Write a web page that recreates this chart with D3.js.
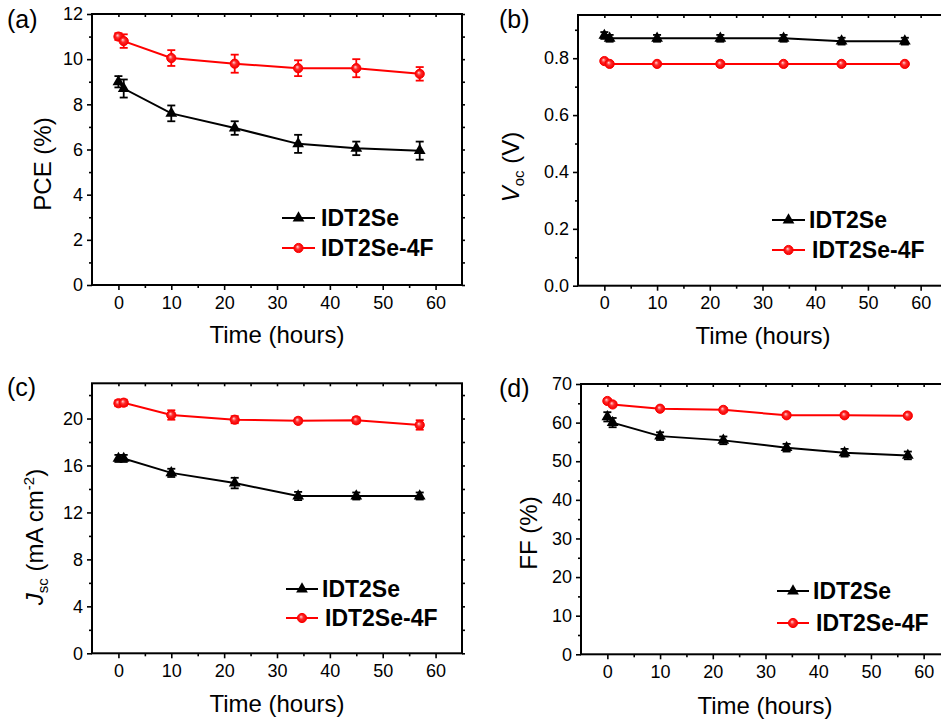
<!DOCTYPE html>
<html>
<head>
<meta charset="utf-8">
<script src="https://cdn.jsdelivr.net/npm/d3@7"></script>
<style>
  body { margin: 0; background: #fff; }
  svg { display: block; font-family: "Liberation Sans", Arial, sans-serif; }
</style>
</head>
<body>
<div id="chart"></div>
<script>
// thời gian đo (giờ)
const hours = [0, 1, 10, 22, 34, 45, 57];
const seriesNames = ["IDT2Se", "IDT2Se-4F"];

// (a) PCE
const pceIDT2Se = [9.0, 8.7, 7.6, 6.95, 6.25, 6.05, 5.95];
const pceIDT2SeErr = [0.25, 0.4, 0.35, 0.3, 0.4, 0.3, 0.4];
const pce4F = [11.0, 10.8, 10.05, 9.8, 9.6, 9.6, 9.35];
const pce4FErr = [0.15, 0.3, 0.35, 0.4, 0.35, 0.4, 0.3];

// (b) Voc
const vocIDT2Se = [0.88, 0.87, 0.87, 0.87, 0.87, 0.86, 0.86];
const vocIDT2SeErr = [0.012, 0.012, 0.012, 0.012, 0.012, 0.012, 0.012];
const voc4F = [0.79, 0.78, 0.78, 0.78, 0.78, 0.78, 0.78];
const voc4FErr = [0.005, 0.005, 0.005, 0.005, 0.005, 0.005, 0.005];

// (c) Jsc
const jscIDT2Se = [16.6, 16.6, 15.37, 14.5, 13.4, 13.4, 13.4];
const jscIDT2SeErr = [0.3, 0.3, 0.35, 0.45, 0.35, 0.3, 0.3];
const jsc4F = [21.3, 21.35, 20.3, 19.9, 19.8, 19.85, 19.45];
const jsc4FErr = [0.25, 0.25, 0.4, 0.3, 0.2, 0.25, 0.4];

// (d) FF
const ffIDT2Se = [61.5, 60.0, 56.5, 55.4, 53.5, 52.2, 51.5];
const ffIDT2SeErr = [1.2, 1.2, 1.0, 1.0, 1.0, 1.0, 1.0];
const ff4F = [65.6, 64.7, 63.6, 63.3, 61.9, 61.9, 61.8];
const ff4FErr = [0.5, 0.5, 0.5, 0.5, 0.5, 0.5, 0.5];

// tick
const xTicks = [0, 10, 20, 30, 40, 50, 60];
const xMinor = [5, 15, 25, 35, 45, 55];
const pceTicks = [0, 2, 4, 6, 8, 10, 12];
const vocTicks = [0, 0.2, 0.4, 0.6, 0.8];
const jscTicks = [0, 4, 8, 12, 16, 20];
const ffTicks = [0, 10, 20, 30, 40, 50, 60, 70];

var width = 941, height = 720;
var svg = d3.select("#chart").append("svg")
  .attr("width", width)
  .attr("height", height);

// gradient cho chấm tròn đỏ (kiểu hình cầu)
var grad = svg.append("defs").append("radialGradient")
  .attr("id", "sphere")
  .attr("cx", "50%").attr("cy", "50%").attr("r", "50%")
  .attr("fx", "38%").attr("fy", "35%");
grad.append("stop").attr("offset", "0%").attr("stop-color", "#ffd6d6");
grad.append("stop").attr("offset", "45%").attr("stop-color", "#ff2a2a");
grad.append("stop").attr("offset", "100%").attr("stop-color", "#f00000");

function drawPanel(p) {
  var x = d3.scaleLinear().domain([-5, 65]).range([p.left, p.right]);
  var y = d3.scaleLinear().domain(p.yDomain).range([p.bottom, p.top]);
  var g = svg.append("g");

  // trục dưới
  g.append("g")
    .attr("transform", "translate(0," + p.bottom + ")")
    .call(d3.axisBottom(x).tickValues(xMinor).tickSize(3).tickFormat(""))
    .call(a => a.select(".domain").remove());
  g.append("g")
    .attr("class", "tk")
    .attr("transform", "translate(0," + p.bottom + ")")
    .call(d3.axisBottom(x).tickValues(xTicks).tickSize(5).tickPadding(6))
    .call(a => a.select(".domain").remove());

  // trục trái
  g.append("g")
    .attr("transform", "translate(" + p.left + ",0)")
    .call(d3.axisLeft(y).tickValues(p.yMinor).tickSize(3).tickFormat(""))
    .call(a => a.select(".domain").remove());
  g.append("g")
    .attr("class", "tk")
    .attr("transform", "translate(" + p.left + ",0)")
    .call(d3.axisLeft(y).tickValues(p.yTicks).tickSize(5).tickPadding(4).tickFormat(p.fmt))
    .call(a => a.select(".domain").remove());

  // trục trên và phải (chỉ tick)
  g.append("g")
    .attr("transform", "translate(0," + p.top + ")")
    .call(d3.axisTop(x).tickValues(xTicks.concat(xMinor)).tickSize(-3).tickFormat(""))
    .call(a => a.select(".domain").remove());
  g.append("g")
    .attr("transform", "translate(" + p.right + ",0)")
    .call(d3.axisRight(y).tickValues(p.yTicks.concat(p.yMinor)).tickSize(3).tickFormat(""))
    .call(a => a.select(".domain").remove());

  g.selectAll(".tick line").attr("stroke", "#000").attr("stroke-width", 1.6);
  g.selectAll(".tk text")
    .attr("font-size", "18px")
    .attr("fill", "#000")
    .style("font-family", "'Liberation Sans', Arial, sans-serif");

  // khung
  g.append("rect")
    .attr("x", p.left).attr("y", p.top)
    .attr("width", p.right - p.left).attr("height", p.bottom - p.top)
    .attr("fill", "none").attr("stroke", "#000").attr("stroke-width", 2);

  // tên trục x
  g.append("text")
    .attr("x", p.xTitleX).attr("y", p.xTitleY)
    .attr("text-anchor", "middle")
    .attr("font-size", "24px")
    .text("Time (hours)");

  // tên trục y
  var yt = g.append("text")
    .attr("transform", "translate(" + p.yTitleX + "," + p.yTitleY + ") rotate(-90)")
    .attr("text-anchor", "middle")
    .attr("font-size", "24px");
  p.yTitle(yt);

  // nhãn panel
  g.append("text")
    .attr("x", p.labelX).attr("y", p.labelY)
    .attr("font-size", "25px")
    .text(p.label);

  var series = [
    { vals: p.black, err: p.blackErr, color: "#000", shape: "tri" },
    { vals: p.red, err: p.redErr, color: "#ff0000", shape: "circle" }
  ];

  series.forEach(function(s) {
    var pts = hours.map((h, i) => ({ h: h, v: s.vals[i], e: s.err[i] }));

    g.append("path")
      .datum(pts)
      .attr("fill", "none")
      .attr("stroke", s.color)
      .attr("stroke-width", 2)
      .attr("d", d3.line().x(d => x(d.h)).y(d => y(d.v)));

    // error bar
    var eb = g.append("g").attr("stroke", s.color).attr("stroke-width", 1.8);
    pts.forEach(function(d) {
      var cx = x(d.h), y1 = y(d.v + d.e), y2 = y(d.v - d.e);
      eb.append("line").attr("x1", cx).attr("x2", cx).attr("y1", y1).attr("y2", y2);
      eb.append("line").attr("x1", cx - 4).attr("x2", cx + 4).attr("y1", y1).attr("y2", y1);
      eb.append("line").attr("x1", cx - 4).attr("x2", cx + 4).attr("y1", y2).attr("y2", y2);
    });

    drawMarkers(g, pts.map(d => [x(d.h), y(d.v)]), s.shape);
  });

  // chú thích
  seriesNames.forEach(function(name, i) {
    var L = p.legend[i];
    var color = i === 0 ? "#000" : "#ff0000";
    g.append("line")
      .attr("x1", L.x1).attr("x2", L.x2).attr("y1", L.y).attr("y2", L.y)
      .attr("stroke", color).attr("stroke-width", 2);
    drawMarkers(g, [[(L.x1 + L.x2) / 2, L.y]], i === 0 ? "tri" : "circle");
    g.append("text")
      .attr("x", L.tx).attr("y", L.y)
      .attr("dy", "0.36em")
      .attr("font-size", "23px")
      .attr("font-weight", "bold")
      .text(name);
  });
}

function drawMarkers(g, coords, shape) {
  if (shape === "tri") {
    g.selectAll(null).data(coords).enter().append("path")
      .attr("transform", d => "translate(" + d[0] + "," + d[1] + ")")
      .attr("d", d3.symbol().type(d3.symbolTriangle).size(60))
      .attr("fill", "#000");
  } else {
    g.selectAll(null).data(coords).enter().append("circle")
      .attr("cx", d => d[0]).attr("cy", d => d[1])
      .attr("r", 4.6)
      .attr("fill", "url(#sphere)")
      .attr("stroke", "#ff0000").attr("stroke-width", 1);
  }
}

drawPanel({
  left: 92, right: 462, top: 14, bottom: 285,
  yDomain: [0, 12], yTicks: pceTicks, yMinor: [1, 3, 5, 7, 9, 11], fmt: d3.format("d"),
  black: pceIDT2Se, blackErr: pceIDT2SeErr, red: pce4F, redErr: pce4FErr,
  xTitleX: 277, xTitleY: 343, yTitleX: 51, yTitleY: 164,
  yTitle: t => t.text("PCE (%)"),
  label: "(a)", labelX: 7, labelY: 28,
  legend: [{ x1: 282, x2: 315, y: 218, tx: 321 }, { x1: 282, x2: 315, y: 248, tx: 321 }]
});

drawPanel({
  left: 578, right: 947, top: 15, bottom: 285.7,
  yDomain: [0, 0.952], yTicks: vocTicks, yMinor: [0.1, 0.3, 0.5, 0.7, 0.9], fmt: d3.format(".1f"),
  black: vocIDT2Se, blackErr: vocIDT2SeErr, red: voc4F, redErr: voc4FErr,
  xTitleX: 763, xTitleY: 344, yTitleX: 519, yTitleY: 167,
  yTitle: function(t) {
    t.append("tspan").attr("font-style", "italic").text("V");
    t.append("tspan").attr("font-size", "15px").attr("dy", "5").text("oc");
    t.append("tspan").attr("dy", "-5").text(" (V)");
  },
  label: "(b)", labelX: 499, labelY: 28,
  legend: [{ x1: 772, x2: 805, y: 220, tx: 809 }, { x1: 772, x2: 805, y: 250, tx: 812 }]
});

drawPanel({
  left: 92, right: 462, top: 383.3, bottom: 653.3,
  yDomain: [0, 23], yTicks: jscTicks, yMinor: [2, 6, 10, 14, 18, 22], fmt: d3.format("d"),
  black: jscIDT2Se, blackErr: jscIDT2SeErr, red: jsc4F, redErr: jsc4FErr,
  xTitleX: 277, xTitleY: 712, yTitleX: 43, yTitleY: 537,
  yTitle: function(t) {
    t.append("tspan").attr("font-style", "italic").text("J");
    t.append("tspan").attr("font-size", "15px").attr("dy", "5").text("sc");
    t.append("tspan").attr("dy", "-5").text(" (mA cm");
    t.append("tspan").attr("font-size", "15px").attr("dy", "-9").text("-2");
    t.append("tspan").attr("dy", "9").text(")");
  },
  label: "(c)", labelX: 7, labelY: 396,
  legend: [{ x1: 286, x2: 318, y: 589, tx: 322 }, { x1: 286, x2: 318, y: 618, tx: 325 }]
});

drawPanel({
  left: 581, right: 950, top: 384, bottom: 654.3,
  yDomain: [0, 70], yTicks: ffTicks, yMinor: [5, 15, 25, 35, 45, 55, 65], fmt: d3.format("d"),
  black: ffIDT2Se, blackErr: ffIDT2SeErr, red: ff4F, redErr: ff4FErr,
  xTitleX: 765, xTitleY: 714, yTitleX: 537, yTitleY: 533,
  yTitle: t => t.text("FF (%)"),
  label: "(d)", labelX: 499, labelY: 397,
  legend: [{ x1: 777, x2: 809, y: 591, tx: 813 }, { x1: 777, x2: 809, y: 623, tx: 816 }]
});
</script>
</body>
</html>
